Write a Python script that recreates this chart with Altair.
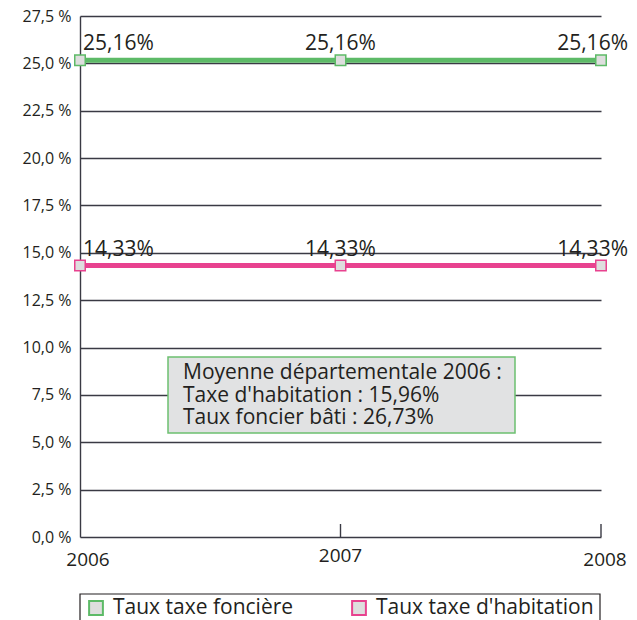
import altair as alt
import pandas as pd

years = [2006, 2007, 2008]
taux_fonciere = [25.16, 25.16, 25.16]
taux_habitation = [14.33, 14.33, 14.33]
series_names = ["Taux taxe foncière", "Taux taxe d'habitation"]
series_colors = ["#5dba67", "#e8428f"]
y_ticks = [0, 2.5, 5, 7.5, 10, 12.5, 15, 17.5, 20, 22.5, 25, 27.5]
note_lines = ["Moyenne départementale 2006 :", "Taxe d'habitation : 15,96%", "Taux foncier bâti : 26,73%"]

rows = []
for name, vals in zip(series_names, [taux_fonciere, taux_habitation]):
    for yr, v in zip(years, vals):
        rows.append({"year": yr, "value": v, "series": name})
df = pd.DataFrame(rows)

FONT = "Open Sans"
TXT = "#231f20"
GRID = "#3a3a44"
W, H = 521, 521

xs = alt.Scale(domain=[2006, 2008], nice=False, zero=False)
ys = alt.Scale(domain=[0, 27.5], nice=False)
color = alt.Scale(domain=series_names, range=series_colors)

X = alt.X("year:Q", scale=xs, title=None, axis=None)
Y = alt.Y("value:Q", scale=ys, title=None,
          axis=alt.Axis(values=y_ticks, grid=True, gridColor=GRID, gridWidth=1.4,
                        domain=True, domainColor=GRID, domainWidth=1.4, ticks=False,
                        labelFontSize=16, labelFont=FONT, labelColor=TXT, labelPadding=9,
                        labelExpr="replace(format(datum.value, '.1f'), '.', ',') + ' %'"))

base = alt.Chart(df)
ydf = alt.Chart(pd.DataFrame({"year": years})).transform_calculate(lbl="toString(datum.year)")

ticks = ydf.transform_filter("datum.year != 2006").mark_rule(color=GRID, strokeWidth=1.4).encode(
    x=alt.X("year:Q", scale=xs),
    y=alt.value(H - 13), y2=alt.value(H),
)

xlab_2006 = ydf.transform_filter("datum.year == 2006").mark_text(
    align="center", baseline="middle", fontSize=19, font=FONT, color=TXT, dx=8).encode(
    x=alt.X("year:Q", scale=xs), y=alt.value(H + 23), text="lbl:N")
xlab_2007 = ydf.transform_filter("datum.year == 2007").mark_text(
    align="center", baseline="middle", fontSize=19, font=FONT, color=TXT).encode(
    x=alt.X("year:Q", scale=xs), y=alt.value(H + 19), text="lbl:N")
xlab_2008 = ydf.transform_filter("datum.year == 2008").mark_text(
    align="center", baseline="middle", fontSize=19, font=FONT, color=TXT, dx=4).encode(
    x=alt.X("year:Q", scale=xs), y=alt.value(H + 23), text="lbl:N")

lines = base.mark_line(strokeWidth=5).encode(
    x=X,
    y=Y,
    color=alt.Color("series:N", scale=color, legend=None),
    detail="series:N",
)

points = base.mark_point(shape="square", size=110, filled=False, fill="#dedede", fillOpacity=1,
                         strokeWidth=1.5, opacity=1).encode(
    x=alt.X("year:Q", scale=xs),
    y=alt.Y("value:Q", scale=ys),
    stroke=alt.Stroke("series:N", scale=color, legend=None),
)

lab = base.transform_calculate(
    label="replace(format(datum.value, '.2f'), '.', ',') + '%'"
)
labels_first = lab.transform_filter("datum.year == 2006").mark_text(
    align="left", baseline="middle", dx=3, dy=-16, fontSize=21, font=FONT, color=TXT).encode(
    x=alt.X("year:Q", scale=xs), y=alt.Y("value:Q", scale=ys), text="label:N")
labels_mid = lab.transform_filter("datum.year == 2007").mark_text(
    align="center", baseline="middle", dy=-16, fontSize=21, font=FONT, color=TXT).encode(
    x=alt.X("year:Q", scale=xs), y=alt.Y("value:Q", scale=ys), text="label:N")
labels_last = lab.transform_filter("datum.year == 2008").mark_text(
    align="right", baseline="middle", dx=27, dy=-16, fontSize=21, font=FONT, color=TXT).encode(
    x=alt.X("year:Q", scale=xs), y=alt.Y("value:Q", scale=ys), text="label:N")

note_box = alt.Chart(pd.DataFrame({"k": [0]})).mark_rect(
    fill="#e1e2e3", stroke="#6cc070", strokeWidth=1.5).encode(
    x=alt.value(88), x2=alt.value(435), y=alt.value(341), y2=alt.value(417))

note_text = alt.Chart(pd.DataFrame({"txt": ["\n".join(note_lines)]})).mark_text(
    align="left", baseline="middle", fontSize=21, font=FONT, color=TXT,
    lineBreak="\n", lineHeight=22.5).encode(
    x=alt.value(103), y=alt.value(357), text="txt:N")

leg_box = alt.Chart(pd.DataFrame({"k": [0]})).mark_rect(
    fill="white", stroke=TXT, strokeWidth=1.2).encode(
    x=alt.value(0), x2=alt.value(520), y=alt.value(578), y2=alt.value(640))

leg_layers = []
for name, col, sx, tx in zip(series_names, series_colors, [16, 279], [33, 296]):
    d = pd.DataFrame({"series": [name]})
    leg_layers.append(alt.Chart(d).mark_point(
        shape="square", size=190, filled=False, fill="#dedede", fillOpacity=1,
        strokeWidth=2, opacity=1, stroke=col).encode(x=alt.value(sx), y=alt.value(592)))
    leg_layers.append(alt.Chart(d).mark_text(
        align="left", baseline="middle", fontSize=21, font=FONT, color=TXT).encode(
        x=alt.value(tx), y=alt.value(592), text="series:N"))

chart = alt.layer(lines, ticks, xlab_2006, xlab_2007, xlab_2008, points,
                  labels_first, labels_mid, labels_last,
                  note_box, note_text, leg_box, *leg_layers).properties(
    width=W, height=H,
    autosize=alt.AutoSizeParams(type="none"),
    padding={"left": 72, "top": 8, "right": 28, "bottom": 83},
).configure_view(stroke=None)

chart.save("out.html", embed_options={"renderer": "svg", "actions": False})
